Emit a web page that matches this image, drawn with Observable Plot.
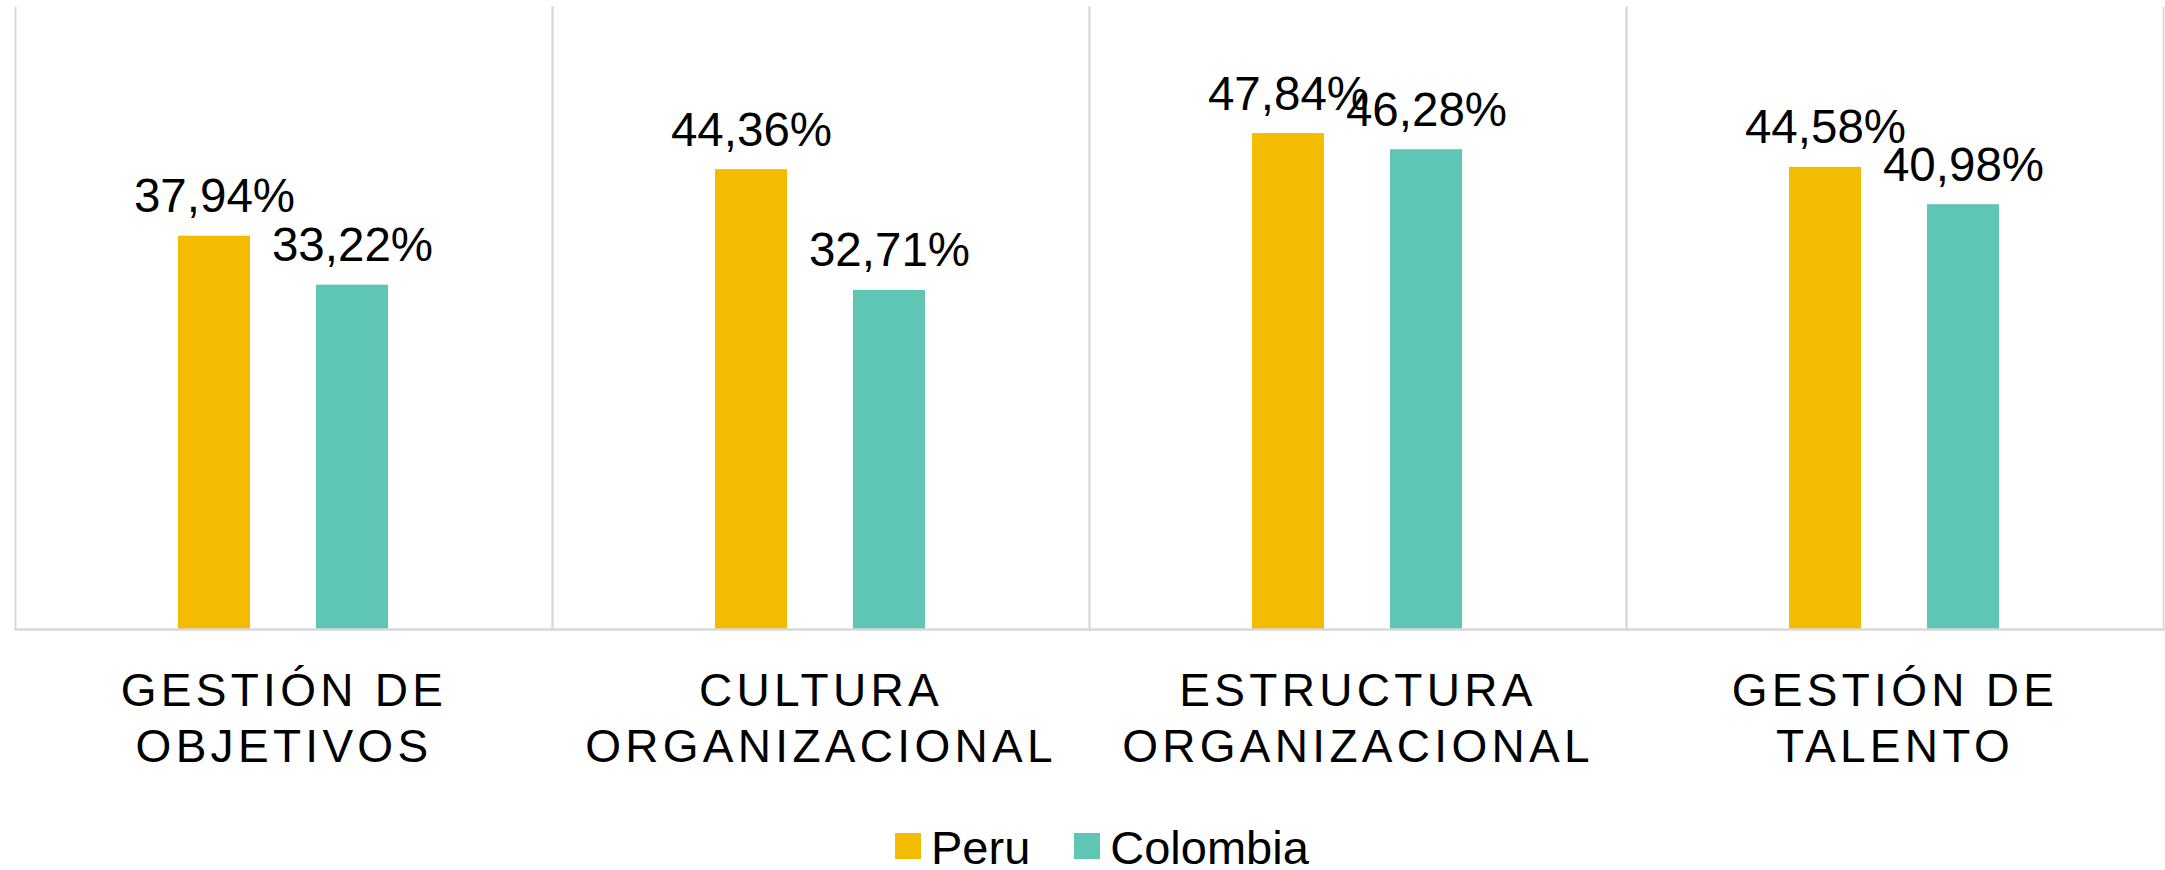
<!DOCTYPE html>
<html>
<head>
<meta charset="utf-8">
<script src="https://cdn.jsdelivr.net/npm/d3@7"></script>
<script src="https://cdn.jsdelivr.net/npm/@observablehq/plot@0.6"></script>
<style>
  html, body { margin: 0; padding: 0; background: #fff; }
  body { font-family: "Liberation Sans", Arial, sans-serif; }
  #wrap { position: relative; width: 2165px; height: 870px; overflow: hidden; }
  #chart svg { display: block; }
  #legend { position: absolute; left: 895px; top: 828px; display: flex; align-items: flex-start;
            font-size: 47px; line-height: 40px; color: #000; white-space: nowrap; }
  #legend .sw { width: 26px; height: 26px; margin-top: 5px; flex: none; }
  #legend .lab { margin-left: 10px; }
  #legend .item + .item { margin-left: 44px; }
  #legend .item { display: flex; align-items: flex-start; }
</style>
</head>
<body>
<div id="wrap">
  <div id="chart"></div>
  <div id="legend"></div>
</div>
<script>
// ---- data ----
const categories = ["GESTIÓN DE OBJETIVOS", "CULTURA ORGANIZACIONAL", "ESTRUCTURA ORGANIZACIONAL", "GESTIÓN DE TALENTO"];
const categoryLabels = ["GESTIÓN DE\nOBJETIVOS", "CULTURA\nORGANIZACIONAL", "ESTRUCTURA\nORGANIZACIONAL", "GESTIÓN DE\nTALENTO"];
const series = ["Peru", "Colombia"];
const peru = [37.94, 44.36, 47.84, 44.58];
const colombia = [33.22, 32.71, 46.28, 40.98];
const seriesColors = ["#f4bc00", "#5fc5b4"];

const seriesValues = {Peru: peru, Colombia: colombia};
const rows = categories.flatMap((c, i) => series.map(s => ({cat: c, serie: s, value: seriesValues[s][i]})));
const fmt = v => d3.format(".2f")(v).replace(".", ",") + "%";

const font = "Liberation Sans, Arial, sans-serif";
const grid = "#d9d9d9";

const chart = Plot.plot({
  width: 2165,
  height: 790,
  marginTop: 7,
  marginBottom: 161,
  marginLeft: 14,
  marginRight: 1,
  style: {fontFamily: font, color: "#000", background: "#fff", overflow: "visible"},
  fx: {domain: categories, padding: 0, label: null, axis: null},
  x: {domain: series, paddingInner: 0.475, paddingOuter: 1.173, axis: null},
  y: {domain: [0, 60], axis: null},
  color: {domain: series, range: seriesColors},
  marks: [
    Plot.frame({anchor: "left", stroke: grid, strokeWidth: 2}),
    Plot.frame({anchor: "right", stroke: grid, strokeWidth: 2}),
    Plot.barY(rows, {fx: "cat", x: "serie", y: "value", fill: "serie"}),
    Plot.frame({anchor: "bottom", stroke: grid, strokeWidth: 2.5}),
    Plot.text(rows, {fx: "cat", x: "serie", y: "value", text: d => fmt(d.value),
      lineAnchor: "bottom", dy: -24, fontSize: 47.5, fill: "#000"}),
    Plot.axisFx({anchor: "bottom", tickSize: 0, tickPadding: 37, label: null,
      tickFormat: c => categoryLabels[categories.indexOf(c)],
      fontSize: 46, lineHeight: 1.22, fill: "#000"})
  ]
});
document.getElementById("chart").appendChild(chart);
d3.select(chart).selectAll('g[aria-label="fx-axis tick label"] text').style("letter-spacing", "4.3px");

// legend
const legend = d3.select("#legend");
series.forEach((s, i) => {
  const item = legend.append("div").attr("class", "item");
  item.append("div").attr("class", "sw").style("background", seriesColors[i]);
  item.append("div").attr("class", "lab").text(s);
});
</script>
</body>
</html>
